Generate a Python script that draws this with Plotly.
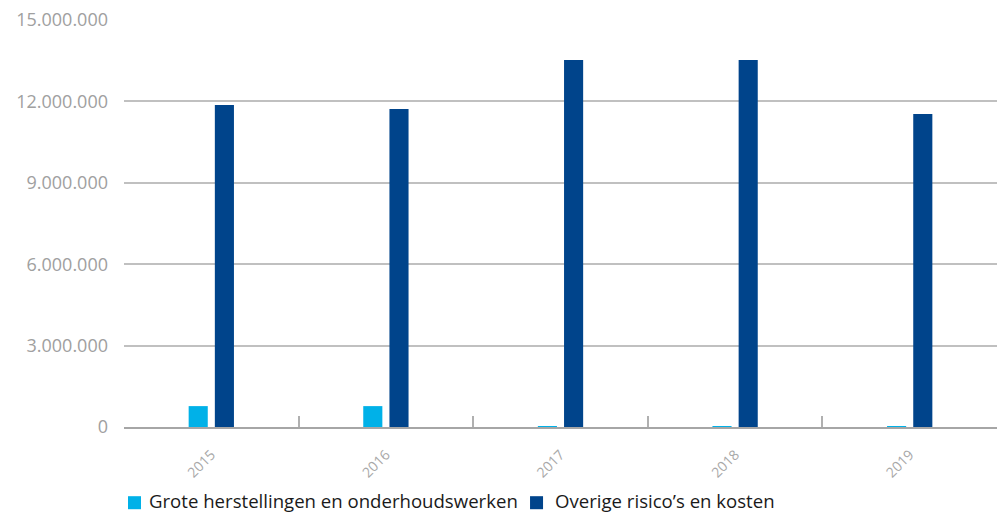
import plotly.graph_objects as go

# Jaarlijkse voorzieningen per categorie (EUR)
jaren = ["2015", "2016", "2017", "2018", "2019"]
grote_herstellingen = [770000, 770000, 4000, 4000, 4000]
overige_risicos = [11870000, 11720000, 13530000, 13530000, 11540000]

reeks_namen = ["Grote herstellingen en onderhoudswerken", "Overige risico\u2019s en kosten"]
reeks_kleuren = ["#00b1e8", "#00448b"]

y_ticks = [0, 3000000, 6000000, 9000000, 12000000, 15000000]
y_tick_labels = ["0", "3.000.000", "6.000.000", "9.000.000", "12.000.000", "15.000.000"]

fig = go.Figure()
for naam, kleur, waarden in zip(reeks_namen, reeks_kleuren, [grote_herstellingen, overige_risicos]):
    fig.add_trace(go.Bar(
        x=jaren, y=waarden, name=naam,
        marker=dict(color=kleur, line=dict(width=0)),
    ))

# Legend drawn as coloured squares with labels below the x-axis (paper coordinates)
legend_items = [
    # (square x0, square x1, label x)
    (0.0046, 0.0195, 0.0263),
    (0.4651, 0.4800, 0.4914),
]
shapes = []
annotations = []
for (x0, x1, xt), naam, kleur in zip(legend_items, reeks_namen, reeks_kleuren):
    shapes.append(dict(
        type="rect", xref="paper", yref="paper",
        x0=x0, x1=x1, y0=-0.202, y1=-0.170,
        fillcolor=kleur, line=dict(width=0),
    ))
    annotations.append(dict(
        xref="paper", yref="paper", x=xt, y=-0.180,
        xanchor="left", yanchor="middle", showarrow=False,
        text=naam, font=dict(size=18.6, color="#1a1a1a"),
    ))

fig.update_layout(
    width=997, height=513,
    margin=dict(l=124, r=0, t=20, b=86, autoexpand=False),
    paper_bgcolor="white", plot_bgcolor="white",
    barmode="group", bargap=0.70, bargroupgap=0.27,
    font=dict(family="Open Sans, Noto Sans, sans-serif"),
    showlegend=False,
    shapes=shapes,
    annotations=annotations,
    xaxis=dict(
        type="category",
        showgrid=False,
        showline=True, linecolor="#a6a6a6", linewidth=2,
        ticks="inside", tickson="boundaries", ticklen=11,
        tickcolor="#b0b0b0", tickwidth=2,
        tickangle=-45,
        tickfont=dict(size=14, color="#a8a8a8"),
        ticklabelstandoff=12,
    ),
    yaxis=dict(
        range=[0, 15000000],
        tickvals=y_ticks, ticktext=y_tick_labels,
        showgrid=True, gridcolor="#c0c0c0", gridwidth=1.5,
        zeroline=False, showline=False,
        tickfont=dict(size=18, color="#a0a0a0"),
        ticklabelstandoff=15,
    ),
)

fig.write_html("out.html")
